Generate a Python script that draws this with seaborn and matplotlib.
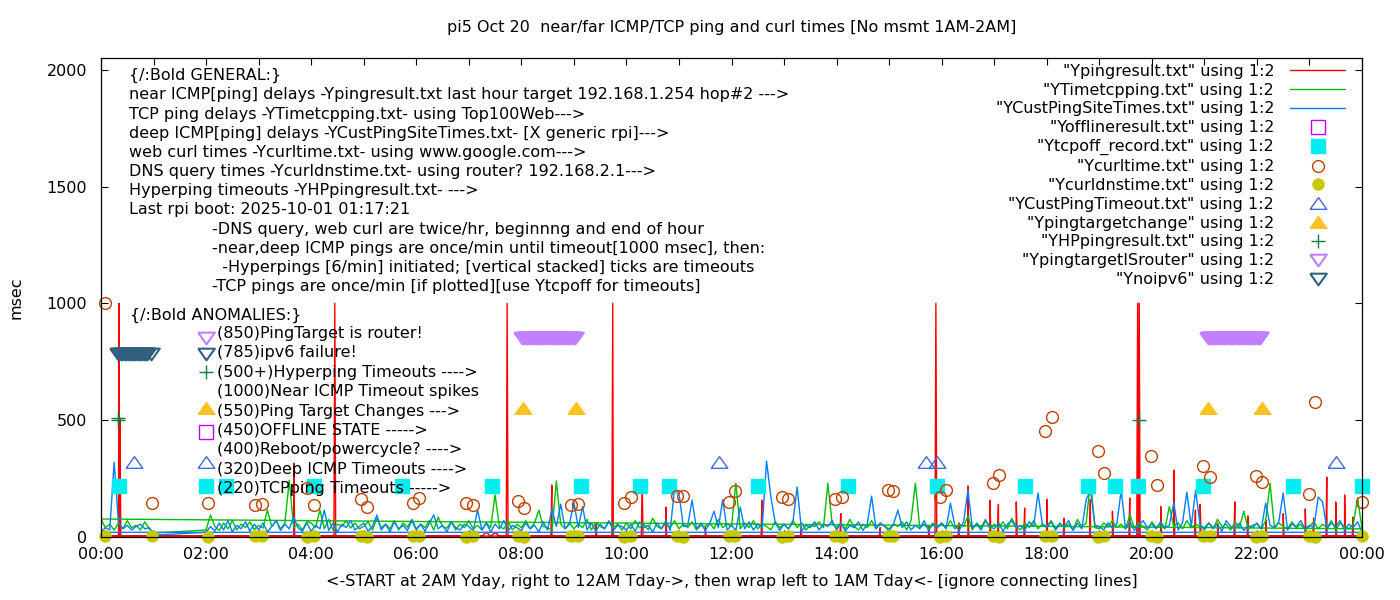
import numpy as np
import pandas as pd
import matplotlib
matplotlib.use('Agg')
import matplotlib.pyplot as plt
from matplotlib.ticker import FixedLocator, FixedFormatter
import seaborn as sns

# 5-minute samples. file order: one stray point at 01:00, then 02:00 -> 24:00,
# then wrap back to 00:00 -> 01:00 (hence the long connecting lines)
t_main = np.arange(265) / 12 + 2.0
t_wrap = np.arange(13) / 12

# near ICMP ping (red) baseline, spikes listed separately below
red_pre = 4
red_main = [
    4, 3, 5, 4, 4, 3, 5, 4, 3, 4, 5, 4,     # 02
    4, 5, 3, 4, 4, 5, 3, 4, 4, 5, 4, 3,     # 03
    4, 3, 5, 4, 4, 4, 4, 3, 5, 4, 3, 4,     # 04
    5, 4, 3, 4, 5, 4, 4, 3, 5, 4, 4, 3,     # 05
    4, 5, 4, 3, 4, 5, 4, 4, 3, 5, 4, 4,     # 06
    3, 4, 5, 4, 20, 4, 18, 5, 4, 4, 4, 3,   # 07
    5, 4, 4, 3, 5, 4, 4, 4, 4, 5, 3, 4,     # 08
    4, 4, 5, 3, 4, 4, 4, 5, 4, 4, 4, 5,     # 09
    4, 3, 4, 5, 4, 4, 3, 5, 4, 4, 4, 3,     # 10
    5, 4, 4, 3, 5, 4, 4, 4, 3, 5, 4, 4,     # 11
    4, 5, 3, 4, 4, 5, 4, 4, 4, 3, 5, 4,     # 12
    4, 3, 5, 4, 4, 4, 3, 5, 4, 4, 3, 5,     # 13
    4, 4, 4, 3, 5, 4, 4, 3, 5, 4, 4, 4,     # 14
    3, 5, 4, 4, 3, 5, 4, 4, 3, 4, 4, 4,     # 15
    4, 5, 4, 3, 4, 4, 4, 4, 5, 3, 4, 4,     # 16
    4, 4, 4, 5, 3, 4, 4, 4, 5, 4, 3, 4,     # 17
    4, 4, 5, 3, 4, 4, 4, 5, 3, 4, 4, 4,     # 18
    5, 4, 3, 4, 4, 5, 4, 4, 4, 4, 4, 5,     # 19
    4, 3, 4, 4, 5, 4, 4, 3, 5, 4, 4, 4,     # 20
    4, 5, 3, 4, 4, 4, 5, 4, 4, 3, 4, 4,     # 21
    5, 4, 4, 4, 3, 5, 4, 4, 4, 3, 5, 4,     # 22
    4, 4, 5, 4, 4, 4, 4, 3, 4, 4, 4, 4,     # 23
    4]
red_wrap = [4, 3, 5, 4, 4, 4, 4, 3, 5, 4, 3, 4, 3]

# near ICMP spikes (hour, msec) -- each lasts about a minute
red_spike_t = [0.34, 0.36, 3.67, 4.45, 7.73, 8.58, 9.42, 9.74, 10.30, 10.75, 11.50,
               12.58, 13.33, 14.08, 14.83, 15.75, 15.89, 16.33, 16.50, 16.92,
               17.08, 17.42, 17.58, 18.00, 18.33, 18.83, 19.25, 19.58, 19.73,
               19.76, 20.17, 20.42, 20.83, 20.92, 21.25, 21.58, 21.83, 22.17,
               22.50, 22.92, 23.08, 23.33, 23.50, 23.67, 23.83]
red_spike_v = [1000, 510, 316, 1000, 1000, 222, 60, 1000, 243, 128, 40,
               158, 45, 100, 40, 50, 1000, 60, 218, 158,
               140, 150, 124, 162, 80, 160, 110, 167, 1000,
               1000, 130, 286, 115, 140, 60, 150, 90, 73,
               100, 120, 80, 256, 150, 180, 85]

# TCP ping (green)
green_pre = 17
green_main = [
    30, 94, 45, 28, 60, 35, 70, 30, 55, 40, 65, 32,     # 02
    50, 38, 115, 45, 70, 35, 60, 243, 40, 55, 30, 65,   # 03
    60, 40, 115, 35, 75, 30, 55, 45, 70, 38, 60, 35,    # 04
    45, 65, 30, 80, 40, 55, 35, 70, 30, 60, 42, 75,     # 05
    35, 55, 40, 70, 30, 85, 45, 38, 65, 30, 55, 40,     # 06
    70, 35, 50, 30, 60, 40, 180, 45, 35, 65, 30, 55,    # 07
    40, 70, 35, 60, 115, 45, 40, 30, 240, 55, 35, 60,   # 08
    35, 55, 40, 75, 30, 60, 45, 35, 65, 40, 55, 30,     # 09
    60, 35, 70, 40, 55, 30, 80, 45, 35, 60, 40, 70,     # 10
    35, 55, 40, 65, 30, 50, 45, 60, 35, 75, 40, 55,     # 11
    45, 230, 35, 60, 40, 70, 35, 55, 45, 30, 65, 40,    # 12
    55, 35, 70, 40, 60, 30, 50, 45, 65, 40, 230, 55,    # 13
    40, 60, 35, 75, 45, 30, 55, 40, 70, 35, 60, 45,     # 14
    35, 55, 45, 65, 30, 70, 230, 40, 55, 35, 60, 40,    # 15
    60, 40, 70, 35, 55, 45, 90, 30, 60, 40, 75, 35,     # 16
    55, 40, 65, 35, 80, 45, 30, 60, 40, 70, 35, 55,     # 17
    45, 70, 35, 60, 40, 55, 30, 75, 45, 60, 243, 40,    # 18
    35, 60, 45, 70, 40, 55, 35, 95, 40, 60, 45, 30,     # 19
    65, 40, 55, 35, 130, 45, 60, 35, 70, 40, 55, 45,    # 20
    40, 60, 35, 75, 45, 55, 30, 65, 40, 110, 35, 50,    # 21
    55, 35, 70, 230, 40, 60, 45, 35, 65, 40, 55, 30,    # 22
    45, 65, 35, 55, 40, 70, 30, 60, 45, 35, 55, 167,    # 23
    35]
green_wrap = [77, 40, 55, 30, 60, 35, 70, 40, 50, 30, 65, 35, 20]

# deep ICMP ping (blue)
blue_pre = 8
blue_main = [
    20, 45, 25, 60, 30, 70, 22, 50, 35, 65, 25, 55,       # 02
    30, 60, 22, 45, 70, 28, 55, 35, 85, 40, 25, 60,       # 03
    25, 50, 35, 115, 28, 60, 22, 55, 40, 70, 30, 45,      # 04
    60, 25, 45, 94, 30, 55, 22, 65, 35, 50, 28, 70,       # 05
    30, 55, 25, 60, 94, 35, 50, 22, 65, 40, 30, 55,       # 06
    45, 25, 115, 30, 60, 22, 55, 35, 70, 28, 50, 40,      # 07
    28, 60, 35, 50, 22, 65, 30, 120, 45, 140, 35, 55,     # 08
    150, 40, 130, 30, 60, 25, 55, 35, 70, 28, 50, 45,     # 09
    30, 55, 25, 65, 40, 50, 22, 60, 35, 70, 28, 210,      # 10
    188, 45, 50, 158, 35, 60, 28, 55, 110, 40, 160, 30,   # 11
    50, 28, 128, 35, 65, 30, 55, 40, 325, 171, 60, 28,    # 12
    55, 35, 60, 214, 25, 50, 40, 65, 30, 55, 45, 70,      # 13
    30, 60, 25, 50, 40, 65, 28, 55, 175, 35, 60, 45,      # 14
    25, 55, 115, 40, 65, 30, 50, 35, 70, 28, 55, 40,      # 15
    60, 35, 145, 50, 28, 65, 200, 40, 55, 30, 70, 45,     # 16
    35, 60, 25, 55, 70, 40, 50, 30, 65, 45, 188, 55,      # 17
    40, 65, 30, 55, 45, 70, 28, 60, 35, 160, 200, 50,     # 18
    45, 30, 60, 40, 55, 200, 35, 65, 28, 50, 70, 40,      # 19
    55, 35, 65, 40, 50, 145, 30, 60, 192, 45, 200, 55,    # 20
    30, 60, 40, 55, 25, 70, 45, 35, 60, 28, 50, 40,       # 21
    60, 35, 145, 50, 40, 65, 188, 30, 55, 45, 70, 35,     # 22
    50, 40, 171, 150, 35, 60, 45, 70, 30, 55, 40, 65,     # 23
    20]
blue_wrap = [20, 40, 30, 320, 60, 35, 50, 30, 45, 55, 35, 40, 15]

# web curl / DNS (twice per hour)
curl_t = [0.08, 0.97, 2.04, 2.93, 3.06, 3.92, 4.05, 4.95, 5.06, 5.94, 6.05, 6.95,
          7.08, 7.94, 8.05, 8.95, 9.08, 9.95, 10.09, 10.96, 11.08, 11.95, 12.07,
          12.96, 13.08, 13.97, 14.10, 14.98, 15.07, 15.97, 16.08, 16.98, 17.09,
          17.97, 18.10, 18.98, 19.09, 19.98, 20.10, 20.97, 21.11, 21.98, 22.10,
          22.99, 23.11, 24.0]
curl_v = [1000, 145, 145, 137, 141, 209, 137, 162, 128, 145, 167, 145,
          137, 154, 124, 137, 141, 145, 171, 175, 175, 150, 197,
          171, 162, 162, 171, 201, 197, 171, 201, 231, 265,
          453, 513, 368, 274, 346, 222, 303, 256, 261, 235,
          184, 577, 150]
dns_v = [3, 3, 2, 3, 3, 2, 3, 3, 2, 3, 3, 2,
         3, 3, 2, 3, 3, 2, 3, 3, 2, 3, 3,
         2, 3, 3, 2, 3, 3, 2, 3, 3, 2,
         3, 3, 2, 3, 3, 2, 3, 3, 2, 3,
         3, 2, 3]

offline_t = [2.0]
offline_v = [450]
tcpoff_t = [0.34, 2.0, 2.38, 4.05, 5.73, 7.44, 9.14, 10.26, 10.81, 12.50, 14.22,
            15.91, 17.59, 18.79, 19.30, 19.74, 20.97, 22.69, 24.0]
tcpoff_v = [220] * len(tcpoff_t)
custto_t = [0.63, 2.0, 11.76, 15.70, 15.91, 23.51]
custto_v = [320] * len(custto_t)
target_t = [2.0, 8.03, 9.04, 21.07, 22.10]
target_v = [550] * len(target_t)
hp_t = [0.33, 0.33, 2.0, 19.75]
hp_v = [500, 510, 705, 500]

# minute of day for the dense flag series
router_min = [120,
              481, 483, 485, 487, 489, 491, 493, 495, 497, 499, 501, 503, 505, 507,
              509, 511, 513, 515, 517, 519, 521, 523, 525, 527, 529, 531, 533, 535,
              537, 539, 541,
              1264, 1266, 1268, 1270, 1272, 1274, 1276, 1278, 1280, 1282, 1284,
              1286, 1288, 1290, 1292, 1294, 1296, 1298, 1300, 1302, 1304, 1306,
              1308, 1310, 1312, 1314, 1316, 1318, 1320, 1322, 1324]
router_v = [850] * len(router_min)
ipv6_min = [120, 19, 21, 23, 25, 27, 29, 31, 33, 35, 37, 39, 41, 43, 45, 47, 49,
            51, 53, 57]
ipv6_v = [785] * len(ipv6_min)

xtick_labels = ['00:00', '02:00', '04:00', '06:00', '08:00', '10:00', '12:00',
                '14:00', '16:00', '18:00', '20:00', '22:00', '00:00']

general = [
    '{/:Bold GENERAL:}',
    'near ICMP[ping] delays -Ypingresult.txt last hour target 192.168.1.254 hop#2 --->',
    'TCP ping delays -YTimetcpping.txt- using Top100Web--->',
    'deep ICMP[ping] delays -YCustPingSiteTimes.txt- [X generic rpi]--->',
    'web curl times -Ycurltime.txt- using www.google.com--->',
    'DNS query times -Ycurldnstime.txt- using router? 192.168.2.1--->',
    'Hyperping timeouts -YHPpingresult.txt- --->',
    'Last rpi boot: 2025-10-01 01:17:21',
]
notes = [
    '-DNS query, web curl are twice/hr, beginnng and end of hour',
    '-near,deep ICMP pings are once/min until timeout[1000 msec], then:',
    '  -Hyperpings [6/min] initiated; [vertical stacked] ticks are timeouts',
    '-TCP pings are once/min [if plotted][use Ytcpoff for timeouts]',
]
anomalies = [
    '(850)PingTarget is router!',
    '(785)ipv6 failure!',
    '(500+)Hyperping Timeouts ---->',
    '(1000)Near ICMP Timeout spikes',
    '(550)Ping Target Changes --->',
    '(450)OFFLINE STATE ----->',
    '(400)Reboot/powercycle? ---->',
    '(320)Deep ICMP Timeouts ---->',
    '(220)TCPping Timeouts ----->',
]

# red: baseline grid plus one-minute spikes (baseline on either side)
one_min = 1 / 60
spk = pd.DataFrame({
    't': np.concatenate([np.array(red_spike_t) - one_min, red_spike_t,
                         np.array(red_spike_t) + one_min]),
    'v': np.concatenate([[4] * len(red_spike_t), red_spike_v, [4] * len(red_spike_t)]),
})
red_m = pd.concat([pd.DataFrame({'t': t_main, 'v': red_main}),
                   spk[spk.t >= 2]]).sort_values('t', kind='stable')
red_w = pd.concat([pd.DataFrame({'t': t_wrap, 'v': red_wrap}),
                   spk[spk.t < 2]]).sort_values('t', kind='stable')
red = pd.concat([pd.DataFrame({'t': [1.0], 'v': [red_pre]}), red_m, red_w],
                ignore_index=True)

t_line = np.concatenate([[1.0], t_main, t_wrap])
lines = pd.DataFrame({
    't': t_line,
    'green': np.concatenate([[green_pre], green_main, green_wrap]),
    'blue': np.concatenate([[blue_pre], blue_main, blue_wrap]),
})

FS = 11.5
sns.set_style('ticks')
plt.rcParams['font.family'] = ['DejaVu Sans']
plt.rcParams['font.size'] = FS
plt.rcParams['text.color'] = 'black'
plt.rcParams['axes.labelcolor'] = 'black'

fig = plt.figure(figsize=(14, 6), dpi=100)
ax = fig.add_axes([101 / 1400, 63 / 600, 1261 / 1400, 479 / 600])

sns.lineplot(data=red, x='t', y='v', sort=False, estimator=None,
             color='#ff0000', lw=1.0, label='"Ypingresult.txt" using 1:2', ax=ax)
for col, c, lab in [('green', '#00c000', '"YTimetcpping.txt" using 1:2'),
                    ('blue', '#0080ff', '"YCustPingSiteTimes.txt" using 1:2')]:
    sns.lineplot(data=lines, x='t', y=col, sort=False, estimator=None,
                 color=c, lw=1.0, label=lab, ax=ax)

tri_up = [(-1, -0.7), (1, -0.7), (0, 0.7), (-1, -0.7)]
tri_dn = [(-1, 0.7), (1, 0.7), (0, -0.7), (-1, 0.7)]


def points(t, v, lab, c, marker, ms, filled, mew=1.0):
    sns.lineplot(x=t, y=v, sort=False, estimator=None, ax=ax, label=lab,
                 linestyle='none', marker=marker, markersize=ms, color=c,
                 markerfacecolor=c if filled else 'none', markeredgecolor=c,
                 markeredgewidth=mew, clip_on=False)


points(offline_t, offline_v, '"Yofflineresult.txt" using 1:2', '#c000ff', 's', 9.5, False)
points(tcpoff_t, tcpoff_v, '"Ytcpoff_record.txt" using 1:2', '#00eeee', 's', 10, True)
points(curl_t, curl_v, '"Ycurltime.txt" using 1:2', '#c04000', 'o', 8.5, False)
points(curl_t, dns_v, '"Ycurldnstime.txt" using 1:2', '#c8c800', 'o', 8, True)
points(custto_t, custto_v, '"YCustPingTimeout.txt" using 1:2', '#4169e1', tri_up, 12, False)
points(target_t, target_v, '"Ypingtargetchange" using 1:2', '#ffc020', tri_up, 12, True)
points(hp_t, hp_v, '"YHPpingresult.txt" using 1:2', '#008040', '+', 10, False)
points(np.array(router_min) / 60, router_v, '"YpingtargetISrouter" using 1:2',
       '#c080ff', tri_dn, 12, False, 1.5)
points(np.array(ipv6_min) / 60, ipv6_v, '"Ynoipv6" using 1:2', '#306080', tri_dn, 12, False, 1.5)

ax.set_xlim(0, 24)
ax.set_ylim(0, 2050)
ax.xaxis.set_major_locator(FixedLocator(np.arange(0, 25, 2)))
ax.xaxis.set_major_formatter(FixedFormatter(xtick_labels))
ax.xaxis.set_minor_locator(FixedLocator(np.arange(1, 24, 2)))
ax.set_yticks([0, 500, 1000, 1500, 2000])
ax.tick_params(which='both', direction='in', top=True, right=True,
               length=5, width=0.8, color='black', labelsize=FS, labelcolor='black')
ax.tick_params(axis='x', pad=7)
ax.tick_params(axis='y', pad=10)
for s in ax.spines.values():
    s.set_color('black')
    s.set_linewidth(0.9)

ax.set_xlabel('<-START at 2AM Yday, right to 12AM Tday->, then wrap left to 1AM Tday<- [ignore connecting lines]',
              fontsize=FS)
ax.xaxis.set_label_coords(0.5, -0.077)
ax.xaxis.label.set_va('top')
ax.set_ylabel('msec', fontsize=FS)
ax.yaxis.set_label_coords(-0.0615, 0.5)
ax.set_title('pi5 Oct 20  near/far ICMP/TCP ping and curl times [No msmt 1AM-2AM]',
             fontsize=FS, pad=19)

ax.text(0.0222, 0.979, '\n'.join(general), transform=ax.transAxes,
        ha='left', va='top', fontsize=FS, linespacing=1.345)
ax.text(0.088, 0.6576, '\n'.join(notes), transform=ax.transAxes,
        ha='left', va='top', fontsize=FS, linespacing=1.33)
ax.text(0.023, 0.478, '{/:Bold ANOMALIES:}', transform=ax.transAxes,
        ha='left', va='top', fontsize=FS)
ax.text(0.092, 0.4405, '\n'.join(anomalies), transform=ax.transAxes,
        ha='left', va='top', fontsize=FS, linespacing=1.365)

ax.legend(loc='upper right', bbox_to_anchor=(1 - 12 / 1261, 1 - 1 / 479),
          borderaxespad=0, borderpad=0.3, markerfirst=False, frameon=False,
          handlelength=3.45, handletextpad=1.0, labelspacing=0.24, numpoints=1,
          fontsize=FS)

fig.savefig('out.png', dpi=100)
